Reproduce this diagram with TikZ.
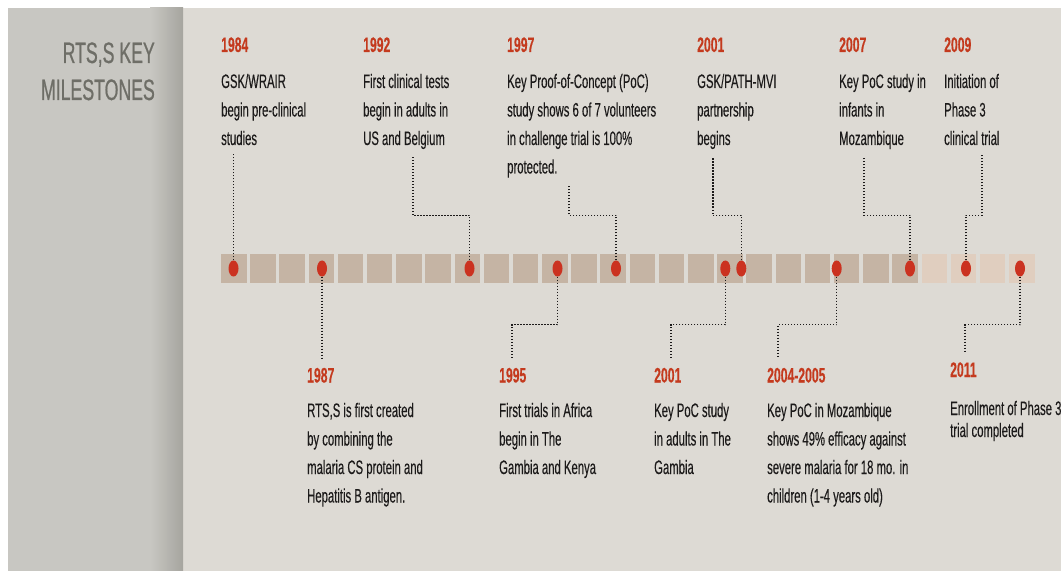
\documentclass[tikz,border=0pt]{standalone}
\usepackage{fontspec}
\usetikzlibrary{calc,positioning,shapes.geometric}
\newfontfamily\condfont[FakeStretch=0.58,FakeBold=0.25]{Liberation Sans}
\newfontfamily\headfont[FakeStretch=0.6,FakeBold=0.6]{Liberation Sans}
\definecolor{panel}{HTML}{C8C7C2}
\definecolor{panelshade}{HTML}{A6A59F}
\definecolor{paper}{HTML}{DDDAD4}
\definecolor{tan}{HTML}{C5B4A4}
\definecolor{lighttan}{HTML}{E0CEBF}
\definecolor{dotred}{HTML}{CB3220}
\definecolor{yearred}{HTML}{C43A1E}
\definecolor{titlegray}{HTML}{6E6E67}
\definecolor{ink}{HTML}{1C1A1A}

\begin{document}
\begin{tikzpicture}[x=1bp,y=-1bp,
  year/.style={anchor=base west,inner sep=0pt,text=yearred,font=\condfont\bfseries\fontsize{21bp}{25bp}\selectfont},
  note/.style={anchor=base west,inner sep=0pt,align=left,text=ink,font=\condfont\fontsize{19.5bp}{28.5bp}\selectfont},
  dot/.style={ellipse,fill=dotred,minimum width=10bp,minimum height=16bp,inner sep=0pt},
  link/.style={ink,line width=1.1bp,dash pattern=on 1.1bp off 1.9bp}]
\useasboundingbox (0,0) rectangle (1061,571);
\fill[white] (0,0) rectangle (1061,571);
\fill[paper] (183,8) rectangle (1061,571);
\fill[panel] (8,8) rectangle (183,571);
\shade[left color=panel,right color=panelshade] (150,8) rectangle (183,571);
\node[anchor=base east,inner sep=0pt,align=right,text=titlegray,font=\headfont\fontsize{29.5bp}{37bp}\selectfont] (title) at (155,100) {RTS,S KEY\\MILESTONES};

\foreach \i [evaluate=\i as \sx using 221+29.19*\i] in {0,...,27}{
  \ifnum\i<24 \def\sq{tan}\else\def\sq{lighttan}\fi
  \fill[\sq] (\sx,254.3) rectangle ++(25.5,28.4);
}
\foreach \n/\x in {84/233.5,87/322,92/469.5,95/557.5,97/616,01a/725.3,01b/741.3,05/836.7,07/910,09/966,11/1020}
  \node[dot] (d\n) at (\x,268.5) {};

\node[year] (y84) at (221,52) {1984};
\node[note] (t84) at (221,145) {GSK/WRAIR\\begin pre-clinical\\studies};
\node[year] (y92) at (363,52) {1992};
\node[note] (t92) at (363,145) {First clinical tests\\begin in adults in\\US and Belgium};
\node[year] (y97) at (507,52) {1997};
\node[note] (t97) at (507,173.5) {Key Proof-of-Concept (PoC)\\study shows 6 of 7 volunteers\\in challenge trial is 100\%\\protected.};
\node[year] (y01a) at (697,52) {2001};
\node[note] (t01a) at (697,145) {GSK/PATH-MVI\\partnership\\begins};
\node[year] (y07) at (839,52) {2007};
\node[note] (t07) at (839,145) {Key PoC study in\\infants in\\Mozambique};
\node[year] (y09) at (944,52) {2009};
\node[note] (t09) at (944,145) {Initiation of\\Phase 3\\clinical trial};

\node[year] (y87) at (307,382.5) {1987};
\node[note] (t87) at (307,502.5) {RTS,S is first created\\by combining the\\malaria CS protein and\\Hepatitis B antigen.};
\node[year] (y95) at (499,382.5) {1995};
\node[note] (t95) at (499,474) {First trials in Africa\\begin in The\\Gambia and Kenya};
\node[year] (y01b) at (654,382.5) {2001};
\node[note] (t01b) at (654,474) {Key PoC study\\in adults in The\\Gambia};
\node[year] (y05) at (767,382.5) {2004-2005};
\node[note] (t05) at (767,502.5) {Key PoC in Mozambique\\shows 49\% efficacy against\\severe malaria for 18 mo. in\\children (1-4 years old)};
\node[year] (y11) at (950,377) {2011};
\node[note,font=\condfont\fontsize{19.5bp}{22bp}\selectfont] (t11) at (950,437) {Enrollment of Phase 3\\trial completed};

\draw[link] (d84.north) -- ($(d84 |- t84.south)+(0,8)$);
\draw[link] (d92.north) -- ++(0,-45) -| ($(t92.south west)+(50,8)$);
\draw[link] (d97.north) -- ++(0,-45) -| ($(t97.south west)+(62,8)$);
\draw[link] (d01b.north) -- ++(0,-45) -| ($(t01a.south west)+(16,8)$);
\draw[link] (d07.north) -- ++(0,-45) -| ($(t07.south west)+(25,8)$);
\draw[link] (d09.north) -- ++(0,-45) -| ($(t09.south west)+(38,8)$);
\draw[link] (d87.south) -- ($(d87 |- y87.north)+(0,-9)$);
\draw[link] (d95.south) -- ++(0,48) -| ($(y95.north west)+(13,-9)$);
\draw[link] (d01a.south) -- ++(0,48) -| ($(y01b.north west)+(17,-9)$);
\draw[link] (d05.south) -- ++(0,48) -| ($(y05.north west)+(11,-9)$);
\draw[link] (d11.south) -- ++(0,48) -| ($(y11.north west)+(15,-9)$);
\end{tikzpicture}
\end{document}
